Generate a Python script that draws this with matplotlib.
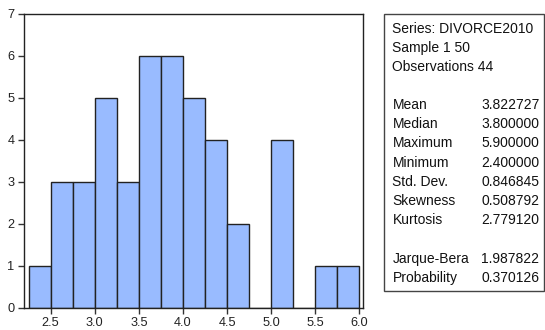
import matplotlib
matplotlib.use('Agg')
import matplotlib.pyplot as plt
from matplotlib.patches import Rectangle

plt.rcParams['font.family'] = ['Liberation Sans', 'DejaVu Sans']

# histogram bins (width 0.25) and counts
bin_edges = [2.25, 2.5, 2.75, 3.0, 3.25, 3.5, 3.75, 4.0, 4.25, 4.5,
             4.75, 5.0, 5.25, 5.5, 5.75, 6.0]
counts = [1, 3, 3, 5, 3, 6, 6, 5, 4, 2, 0, 4, 0, 1, 1]
x_ticks = [2.5, 3.0, 3.5, 4.0, 4.5, 5.0, 5.5, 6.0]
y_ticks = [0, 1, 2, 3, 4, 5, 6, 7]

# summary statistics
header_lines = ['Series: DIVORCE2010', 'Sample 1 50', 'Observations 44']
stat_names = ['Mean', 'Median', 'Maximum', 'Minimum', 'Std. Dev.', 'Skewness', 'Kurtosis']
stat_values = ['3.822727', '3.800000', '5.900000', '2.400000', '0.846845', '0.508792', '2.779120']
test_names = ['Jarque-Bera', 'Probability']
test_values = ['1.987822', '0.370126']

W, H = 545, 330
fig = plt.figure(figsize=(W / 100, H / 100), dpi=100)
ax = fig.add_axes([24 / W, 1 - 307.7 / H, (363.3 - 24) / W, (307.7 - 14) / H])

widths = [b - a for a, b in zip(bin_edges[:-1], bin_edges[1:])]
ax.bar(bin_edges[:-1], counts, width=widths, align='edge',
       color='#99bbff', edgecolor='#222222', linewidth=1.0)

ax.set_xlim(2.197, 6.045)
ax.set_ylim(0, 7)
ax.set_xticks(x_ticks)
ax.set_xticklabels([f'{t:.1f}' for t in x_ticks])
ax.set_yticks(y_ticks)
ax.tick_params(direction='out', length=4, width=1, labelsize=9.2, color='#333333',
               labelcolor='#222222', pad=3)
for s in ax.spines.values():
    s.set_linewidth(1.0)
    s.set_color('#222222')

# statistics box
box = Rectangle((384 / W, 1 - 291 / H), (544 - 384) / W, (291 - 14) / H,
                transform=fig.transFigure, fill=False, edgecolor='#444444', linewidth=1.0)
fig.patches.append(box)

fs = 10
lx, vx = 392.5 / W, 481.5 / W
ys = [29, 48, 67]
for txt, y in zip(header_lines, ys):
    fig.text(lx, 1 - y / H, txt, fontsize=fs, va='center', ha='left', color='#111111')
for i, (n, v) in enumerate(zip(stat_names, stat_values)):
    y = 105 + i * 19.2
    fig.text(lx, 1 - y / H, n, fontsize=fs, va='center', ha='left', color='#111111')
    fig.text(vx, 1 - y / H, v, fontsize=fs, va='center', ha='left', color='#111111')
for i, (n, v) in enumerate(zip(test_names, test_values)):
    y = 259 + i * 19.2
    fig.text(lx, 1 - y / H, n, fontsize=fs, va='center', ha='left', color='#111111')
    fig.text(vx, 1 - y / H, v, fontsize=fs, va='center', ha='left', color='#111111')

fig.savefig('out.png', dpi=100)
